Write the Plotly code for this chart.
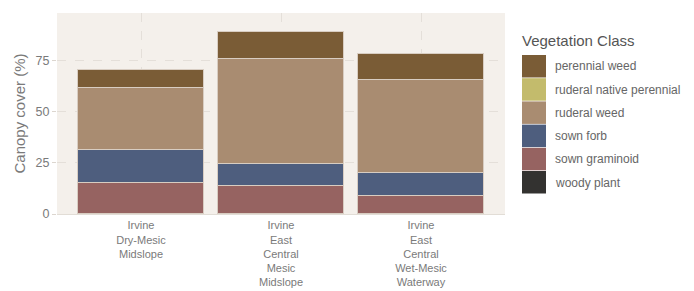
import plotly.graph_objects as go

sites = ["Irvine<br>Dry-Mesic<br>Midslope",
         "Irvine<br>East<br>Central<br>Mesic<br>Midslope",
         "Irvine<br>East<br>Central<br>Wet-Mesic<br>Waterway"]

classes = ["perennial weed", "ruderal native perennial", "ruderal weed",
           "sown forb", "sown graminoid", "woody plant"]
colors = ["#7a5c36", "#c3bb6c", "#a98c71", "#4e5e7e", "#966361", "#333230"]

woody_plant = [0, 0, 0]
sown_graminoid = [15.2, 13.7, 8.7]
sown_forb = [16.0, 10.5, 11.4]
ruderal_weed = [30.3, 51.6, 45.2]
ruderal_native_perennial = [0, 0, 0]
perennial_weed = [8.7, 13.2, 13.0]

stack = [("woody plant", woody_plant), ("sown graminoid", sown_graminoid),
         ("sown forb", sown_forb), ("ruderal weed", ruderal_weed),
         ("ruderal native perennial", ruderal_native_perennial),
         ("perennial weed", perennial_weed)]

cmap = dict(zip(classes, colors))
xpos = list(range(len(sites)))

fig = go.Figure()
for name, vals in stack:
    fig.add_trace(go.Bar(x=xpos, y=vals, name=name, width=0.9,
                         marker=dict(color=cmap[name],
                                     line=dict(color="#d8cdc2", width=1)),
                         showlegend=False))

fnt = "Liberation Sans, Arial, sans-serif"
grey = "#7a7a7a"

# page body adds ~8px offset; compensate
OFF = 8
W, H = 694 - OFF, 291 - OFF
ml, mt = 57 - OFF, 13 - OFF
mr = W - (505 - OFF)
mb = H - (214 - OFF)
pw, ph = W - ml - mr, H - mt - mb

def px2x(px):
    return (px - OFF - ml) / pw

def py2y(py):
    return (H - mb - (py - OFF)) / ph

shapes = []
ann = []
ann.append(dict(text="Vegetation Class", x=px2x(520), y=py2y(40), xref="paper", yref="paper",
                xanchor="left", yanchor="middle", showarrow=False,
                font=dict(size=15, color="#555555", family=fnt)))
for i, (c, col) in enumerate(zip(classes, colors)):
    y0 = 55 + i * 23.2
    shapes.append(dict(type="rect", xref="paper", yref="paper",
                       x0=px2x(522), x1=px2x(546), y0=py2y(y0), y1=py2y(y0 + 22.5),
                       fillcolor=col, line=dict(width=0)))
    ann.append(dict(text=c, x=px2x(553), y=py2y(y0 + 11.5), xref="paper", yref="paper",
                    xanchor="left", yanchor="middle", showarrow=False,
                    font=dict(size=12, color="#666666", family=fnt)))

fig.update_layout(
    barmode="stack",
    width=W, height=H,
    margin=dict(l=ml, r=mr, t=mt, b=mb, autoexpand=False),
    paper_bgcolor="white",
    plot_bgcolor="#f4f0eb",
    font=dict(family=fnt, color=grey, size=12),
    shapes=shapes,
    annotations=ann,
    bargap=0,
    xaxis=dict(range=[-0.6, 2.6], tickmode="array", tickvals=xpos, ticktext=sites,
               automargin=False,
               showgrid=True, gridcolor="#e4dfd9", griddash="dash", gridwidth=1,
               zeroline=False, showline=True, linecolor="#e2ddd6",
               ticks="outside", ticklen=1, tickcolor="rgba(0,0,0,0)",
               tickfont=dict(size=11, color=grey)),
    yaxis=dict(range=[0, 98.2], tickvals=[0, 25, 50, 75], automargin=False,
               showgrid=True, gridcolor="#e4dfd9", griddash="dash", gridwidth=1,
               zeroline=False, ticks="outside", ticklen=4, tickcolor="#dcd6cf",
               title=dict(text="Canopy cover (%)", font=dict(size=15, color=grey), standoff=6),
               tickfont=dict(size=12.5, color=grey)),
)

fig.write_html("out.html")
